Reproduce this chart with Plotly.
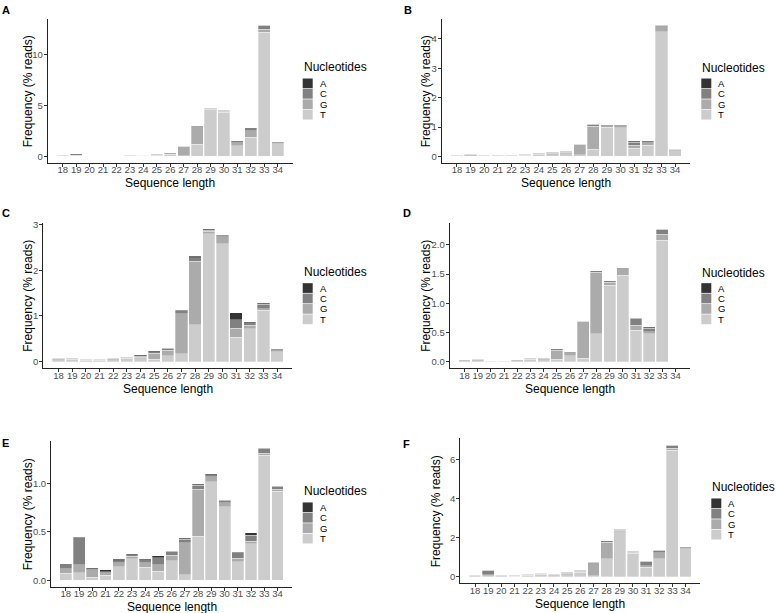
import plotly.graph_objects as go

W, H = 776, 613

lengths = list(range(18, 35))
nucleotides = ["A", "C", "G", "T"]
colors = {"A": "#333333", "C": "#818181", "G": "#ABABAB", "T": "#CCCCCC"}

# ---- data (% reads) per panel, per terminal nucleotide ----
A_T = [0.04, 0.05, 0.03, 0.03, 0.04, 0.12, 0.07, 0.08, 0.22, 0.05, 1.20, 4.57, 4.34, 1.03, 1.90, 12.20, 1.25]
A_G = [0.03, 0.06, 0.01, 0.01, 0.02, 0.02, 0.03, 0.05, 0.12, 0.90, 1.70, 0.06, 0.11, 0.32, 0.64, 0.30, 0.10]
A_C = [0.03, 0.17, 0.01, 0.01, 0.01, 0.01, 0.02, 0.07, 0.04, 0.05, 0.10, 0.10, 0.08, 0.19, 0.26, 0.36, 0.10]
A_A = [0.00, 0.00, 0.00, 0.00, 0.00, 0.00, 0.00, 0.00, 0.00, 0.00, 0.00, 0.00, 0.00, 0.00, 0.00, 0.00, 0.00]

B_T = [0.03, 0.03, 0.03, 0.02, 0.03, 0.04, 0.05, 0.05, 0.09, 0.05, 0.25, 1.00, 0.98, 0.28, 0.38, 4.24, 0.20]
B_G = [0.01, 0.02, 0.01, 0.01, 0.01, 0.02, 0.03, 0.05, 0.05, 0.35, 0.78, 0.05, 0.07, 0.10, 0.09, 0.17, 0.02]
B_C = [0.01, 0.03, 0.01, 0.01, 0.01, 0.01, 0.02, 0.04, 0.03, 0.02, 0.07, 0.02, 0.02, 0.11, 0.06, 0.05, 0.03]
B_A = [0.00, 0.00, 0.00, 0.00, 0.00, 0.00, 0.00, 0.00, 0.00, 0.00, 0.00, 0.00, 0.00, 0.02, 0.01, 0.00, 0.00]

C_T = [0.04, 0.05, 0.03, 0.03, 0.04, 0.07, 0.06, 0.05, 0.13, 0.17, 0.81, 2.80, 2.58, 0.54, 0.72, 1.13, 0.22]
C_G = [0.02, 0.02, 0.01, 0.01, 0.02, 0.03, 0.04, 0.13, 0.12, 0.88, 1.39, 0.06, 0.15, 0.19, 0.08, 0.03, 0.02]
C_C = [0.01, 0.02, 0.01, 0.01, 0.01, 0.01, 0.02, 0.04, 0.04, 0.06, 0.08, 0.02, 0.03, 0.19, 0.05, 0.10, 0.02]
C_A = [0.00, 0.00, 0.00, 0.00, 0.00, 0.00, 0.02, 0.02, 0.01, 0.02, 0.03, 0.02, 0.01, 0.15, 0.02, 0.02, 0.01]

D_T = [0.02, 0.02, 0.01, 0.01, 0.02, 0.04, 0.03, 0.04, 0.10, 0.06, 0.48, 1.31, 1.48, 0.54, 0.48, 2.08, 0.00]
D_G = [0.01, 0.01, 0.01, 0.01, 0.01, 0.02, 0.03, 0.16, 0.05, 0.62, 1.05, 0.05, 0.11, 0.08, 0.03, 0.10, 0.00]
D_C = [0.00, 0.01, 0.00, 0.00, 0.00, 0.01, 0.01, 0.02, 0.02, 0.01, 0.03, 0.03, 0.02, 0.12, 0.06, 0.09, 0.00]
D_A = [0.00, 0.00, 0.00, 0.00, 0.00, 0.00, 0.00, 0.00, 0.00, 0.00, 0.00, 0.00, 0.00, 0.01, 0.02, 0.00, 0.00]

E_T = [0.070, 0.075, 0.030, 0.050, 0.140, 0.220, 0.135, 0.095, 0.200, 0.055, 0.455, 1.020, 0.760, 0.190, 0.375, 1.290, 0.920]
E_G = [0.050, 0.085, 0.080, 0.030, 0.040, 0.030, 0.045, 0.065, 0.060, 0.335, 0.485, 0.050, 0.040, 0.035, 0.030, 0.025, 0.020]
E_C = [0.050, 0.280, 0.010, 0.010, 0.020, 0.015, 0.030, 0.075, 0.040, 0.035, 0.040, 0.020, 0.025, 0.060, 0.060, 0.050, 0.030]
E_A = [0.000, 0.005, 0.010, 0.020, 0.015, 0.010, 0.010, 0.020, 0.005, 0.010, 0.010, 0.010, 0.005, 0.005, 0.025, 0.005, 0.005]

F_T = [0.06, 0.05, 0.05, 0.04, 0.09, 0.13, 0.10, 0.12, 0.23, 0.05, 0.94, 2.30, 1.21, 0.50, 0.94, 6.47, 1.45]
F_G = [0.02, 0.06, 0.02, 0.02, 0.03, 0.03, 0.04, 0.06, 0.07, 0.62, 0.84, 0.08, 0.05, 0.07, 0.29, 0.10, 0.03]
F_C = [0.02, 0.23, 0.01, 0.02, 0.02, 0.02, 0.02, 0.05, 0.03, 0.07, 0.07, 0.06, 0.05, 0.23, 0.13, 0.17, 0.05]
F_A = [0.00, 0.00, 0.00, 0.00, 0.00, 0.00, 0.00, 0.00, 0.00, 0.00, 0.00, 0.00, 0.00, 0.00, 0.00, 0.00, 0.00]

panel_labels = ["A", "B", "C", "D", "E", "F"]
panel_data = {
    "A": {"A": A_A, "C": A_C, "G": A_G, "T": A_T},
    "B": {"A": B_A, "C": B_C, "G": B_G, "T": B_T},
    "C": {"A": C_A, "C": C_C, "G": C_G, "T": C_T},
    "D": {"A": D_A, "C": D_C, "G": D_G, "T": D_T},
    "E": {"A": E_A, "C": E_C, "G": E_G, "T": E_T},
    "F": {"A": F_A, "C": F_C, "G": F_G, "T": F_T},
}
y_ticks = {
    "A": [0, 5, 10],
    "B": [0, 1, 2, 3, 4],
    "C": [0, 1, 2, 3],
    "D": [0, 0.5, 1.0, 1.5, 2.0],
    "E": [0, 0.5, 1.0],
    "F": [0, 2, 4, 6],
}
y_fmt = {"A": "d", "B": "d", "C": "d", "D": ".1f", "E": ".1f", "F": "d"}

# ---- layout geometry (pixels) ----
# plot box: left, right, top, bottom
boxes = {
    "A": (47.7, 292.7, 15.0, 160.0),
    "B": (441.7, 690.3, 15.0, 160.0),
    "C": (43.3, 292.3, 220.0, 366.7),
    "D": (449.7, 690.3, 220.0, 366.7),
    "E": (51.0, 292.3, 440.0, 586.7),
    "F": (460.3, 700.3, 437.3, 583.3),
}
ytitle_x = {"A": 28.3, "B": 426.3, "C": 28.3, "D": 426.3, "E": 28.3, "F": 436.3}
label_pos = {"A": (5.5, 6), "B": (407.5, 6), "C": (6, 210), "D": (407, 210),
             "E": (5.5, 441.7), "F": (406.5, 442.7)}
# legend: left, title centre y, first key top
legend_pos = {"A": (302.7, 63.5, 75.0), "B": (701.3, 64.5, 75.0),
              "C": (302.7, 270.0, 281.0), "D": (701.3, 271.0, 281.0),
              "E": (302.7, 490.0, 501.7), "F": (711.3, 486.0, 497.7)}


def fx(px):
    return px / W


def fy(py):
    return 1 - py / H


FONT = "Liberation Sans, Arial, Helvetica, sans-serif"
fig = go.Figure()
annotations = []
shapes = []

for i, p in enumerate(panel_labels):
    n = i + 1
    xa = "x" if n == 1 else f"x{n}"
    ya = "y" if n == 1 else f"y{n}"
    d = panel_data[p]
    # stack bottom-up: T, G, C, A
    for nuc in ["T", "G", "C", "A"]:
        fig.add_trace(go.Bar(
            x=lengths, y=d[nuc], width=0.9, name=nuc,
            marker=dict(color=colors[nuc], line=dict(color="white", width=0.3)),
            xaxis=xa, yaxis=ya, showlegend=False,
            hovertemplate=f"{nuc}: %{{y}}<extra></extra>",
        ))
    totals = [sum(v) for v in zip(d["A"], d["C"], d["G"], d["T"])]
    ymax = max(totals)
    l, r, t, b = boxes[p]
    xkey = "xaxis" if n == 1 else f"xaxis{n}"
    ykey = "yaxis" if n == 1 else f"yaxis{n}"
    axis_common = dict(showline=True, linecolor="#222222", linewidth=1,
                       ticks="outside", ticklen=3, tickwidth=1, tickcolor="#333333",
                       showgrid=False, zeroline=False, fixedrange=True,
                       tickfont=dict(family=FONT, size=9.5, color="#4D4D4D"))
    fig.update_layout({
        xkey: dict(axis_common, domain=[fx(l), fx(r)], anchor=ya,
                   range=[18 - 1.12, 34 + 1.12], tickmode="array",
                   tickvals=lengths, ticktext=[str(v) for v in lengths],
                   tickangle=0, ticklabelstandoff=-5),
        ykey: dict(axis_common, domain=[fy(b), fy(t)], anchor=xa,
                   range=[-0.05 * ymax, 1.05 * ymax], tickmode="array",
                   tickvals=y_ticks[p], tickformat=y_fmt[p],
                   ticklabelstandoff=-1),
    })
    # axis titles
    annotations.append(dict(text="Sequence length", xref="paper", yref="paper",
                            x=fx((l + r) / 2), y=fy(b + 20.5), xanchor="center", yanchor="middle",
                            showarrow=False, font=dict(family=FONT, size=12, color="black")))
    annotations.append(dict(text="Frequency (% reads)", xref="paper", yref="paper",
                            x=fx(ytitle_x[p]), y=fy((t + b) / 2), xanchor="center", yanchor="middle",
                            textangle=-90, showarrow=False,
                            font=dict(family=FONT, size=12, color="black")))
    # panel label
    lx, ly = label_pos[p]
    annotations.append(dict(text=f"<b>{p}</b>", xref="paper", yref="paper",
                            x=fx(lx), y=fy(ly), xanchor="center", yanchor="middle",
                            showarrow=False, font=dict(family=FONT, size=11, color="black")))
    # legend (drawn as keys + labels)
    gx, gty, gk = legend_pos[p]
    annotations.append(dict(text="Nucleotides", xref="paper", yref="paper",
                            x=fx(gx - 1), y=fy(gty), xanchor="left", yanchor="middle",
                            showarrow=False, font=dict(family=FONT, size=12, color="black")))
    for k, nuc in enumerate(nucleotides):
        top = gk + k * 10.5
        shapes.append(dict(type="rect", xref="paper", yref="paper",
                           x0=fx(gx), x1=fx(gx + 10), y0=fy(top + 9.8), y1=fy(top),
                           fillcolor=colors[nuc], line=dict(width=0)))
        annotations.append(dict(text=nuc, xref="paper", yref="paper",
                                x=fx(gx + 15), y=fy(top + 5), xanchor="left", yanchor="middle",
                                showarrow=False, font=dict(family=FONT, size=9.5, color="black")))

fig.update_layout(
    width=W, height=H, barmode="stack",
    margin=dict(l=0, r=0, t=0, b=0),
    plot_bgcolor="white", paper_bgcolor="white",
    showlegend=False,
    annotations=annotations, shapes=shapes,
    font=dict(family=FONT),
)

fig.write_html("out.html", config={"displayModeBar": False},
               post_script="document.body.style.margin='0px';")
